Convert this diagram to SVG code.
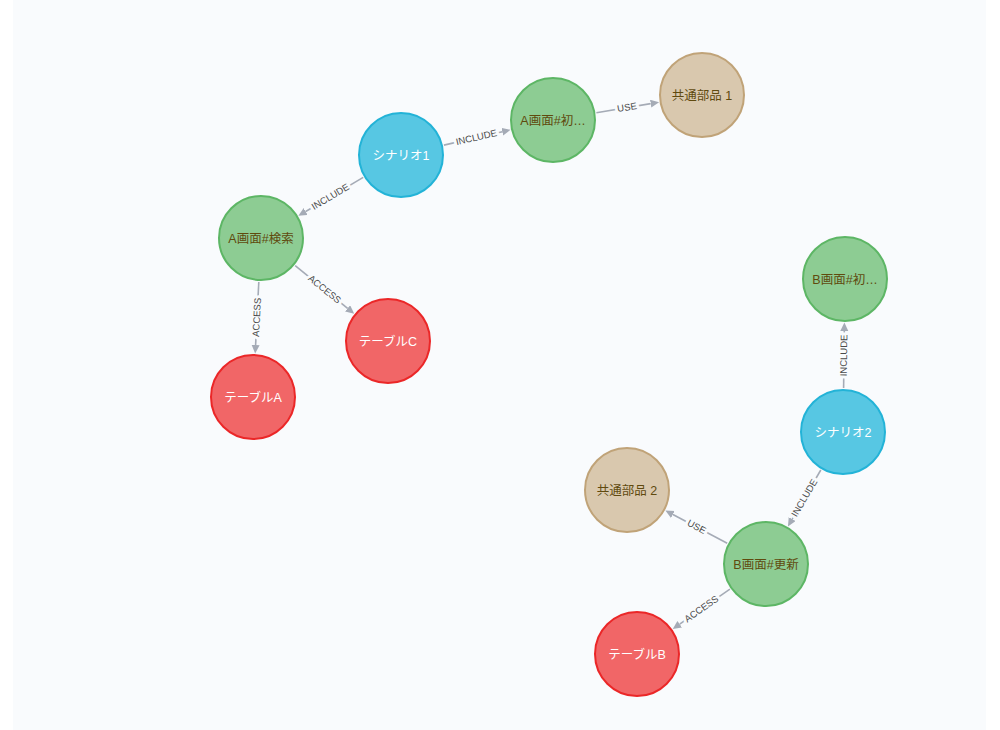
<svg xmlns="http://www.w3.org/2000/svg" width="1000" height="730" viewBox="0 0 1000 730">
<style>
.edge{stroke:#a5abb6;stroke-width:1.6;fill:none}
.elab{font-family:"Liberation Sans","Noto Sans CJK JP",sans-serif;font-size:9.5px;fill:#4a4a4a;text-anchor:middle;stroke:#f9fbfd;stroke-width:6px;paint-order:stroke;stroke-linejoin:round}
.n circle{stroke-width:2}
.n text{font-family:"Liberation Sans","Noto Sans CJK JP",sans-serif;font-size:12.5px;text-anchor:middle}
.blue circle{fill:#57c7e3;stroke:#23b3d7}
.green circle{fill:#8dcc93;stroke:#5db665}
.red circle{fill:#f16667;stroke:#eb2728}
.tan circle{fill:#d9c8ae;stroke:#c0a378}
.blue text,.red text{fill:#ffffff}
.green text,.tan text{fill:#604a0e}
</style>
<defs>
<marker id="arr" markerUnits="userSpaceOnUse" markerWidth="10" markerHeight="9" refX="0" refY="4" orient="auto">
<path d="M0,0 L8.5,4 L0,8 z" fill="#a5abb6"/>
</marker>
</defs>
<rect x="0" y="0" width="1000" height="730" fill="#ffffff"/>
<rect x="13" y="0" width="973" height="730" fill="#f9fbfd"/>
<g id="connectors">
<line class="edge" x1="443.9" y1="145.1" x2="502.3" y2="131.7" marker-end="url(#arr)"/>
<text class="elab" transform="translate(477,140.5) rotate(-13)">INCLUDE</text>
<line class="edge" x1="363.2" y1="177.4" x2="305.7" y2="211.5" marker-end="url(#arr)"/>
<text class="elab" transform="translate(332,199.5) rotate(-30.7)">INCLUDE</text>
<line class="edge" x1="596.4" y1="112.7" x2="650.7" y2="103.6" marker-end="url(#arr)"/>
<text class="elab" transform="translate(627.5,110.5) rotate(-9.5)">USE</text>
<line class="edge" x1="258.8" y1="282" x2="255.6" y2="345" marker-end="url(#arr)"/>
<text class="elab" transform="translate(260,317.5) rotate(-87.1)">ACCESS</text>
<line class="edge" x1="295.2" y1="265.7" x2="347.6" y2="308.3" marker-end="url(#arr)"/>
<text class="elab" transform="translate(322.6,291.8) rotate(39)">ACCESS</text>
<line class="edge" x1="843.6" y1="388" x2="844.3" y2="331" marker-end="url(#arr)"/>
<text class="elab" transform="translate(847,355.5) rotate(-89.3)">INCLUDE</text>
<line class="edge" x1="820.8" y1="470" x2="792.2" y2="519.1" marker-end="url(#arr)"/>
<text class="elab" transform="translate(807.1,499.5) rotate(-59.7)">INCLUDE</text>
<line class="edge" x1="727.2" y1="543.3" x2="672.9" y2="514.5" marker-end="url(#arr)"/>
<text class="elab" transform="translate(695.1,529.6) rotate(28)">USE</text>
<line class="edge" x1="729.9" y1="589.2" x2="679.7" y2="624.2" marker-end="url(#arr)"/>
<text class="elab" transform="translate(703.2,611.5) rotate(-34.9)">ACCESS</text>
</g>
<g id="n-scenario1" class="n blue"><circle cx="401" cy="155" r="42"/><text x="401" y="159.5">シナリオ1</text></g>
<g id="n-a-init" class="n green"><circle cx="553" cy="120" r="42"/><text x="553" y="124.5">A画面#初…</text></g>
<g id="n-common1" class="n tan"><circle cx="702" cy="95" r="42"/><text x="702" y="99.5">共通部品 1</text></g>
<g id="n-a-search" class="n green"><circle cx="261" cy="238" r="42"/><text x="261" y="242.5">A画面#検索</text></g>
<g id="n-tableC" class="n red"><circle cx="388" cy="341" r="42"/><text x="388" y="345.5">テーブルC</text></g>
<g id="n-tableA" class="n red"><circle cx="253" cy="397" r="42"/><text x="253" y="401.5">テーブルA</text></g>
<g id="n-b-init" class="n green"><circle cx="845" cy="279" r="42"/><text x="845" y="283.5">B画面#初…</text></g>
<g id="n-scenario2" class="n blue"><circle cx="843" cy="432" r="42"/><text x="843" y="436.5">シナリオ2</text></g>
<g id="n-common2" class="n tan"><circle cx="627" cy="490" r="42"/><text x="627" y="494.5">共通部品 2</text></g>
<g id="n-b-update" class="n green"><circle cx="766" cy="564" r="42"/><text x="766" y="568.5">B画面#更新</text></g>
<g id="n-tableB" class="n red"><circle cx="637" cy="654" r="42"/><text x="637" y="658.5">テーブルB</text></g>
</svg>
